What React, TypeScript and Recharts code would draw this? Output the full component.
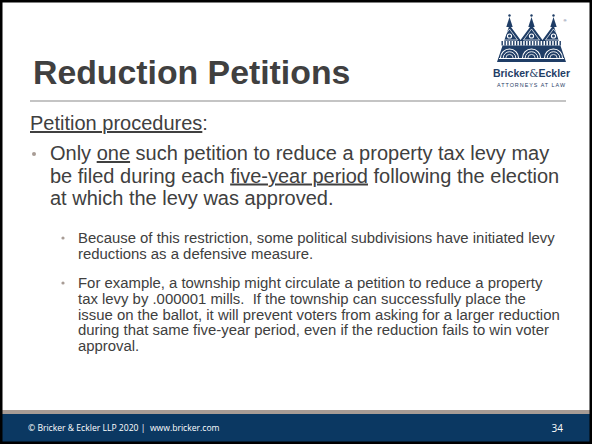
import { Surface, Layer, Rectangle, Polygon, Dot } from "recharts";

type Seg = [string, boolean?];

const TITLE = "Reduction Petitions";
const SUBHEAD = "Petition procedures";
const BULLET_LINES: Seg[][] = [
  [["Only "], ["one", true], [" such petition to reduce a property tax levy may"]],
  [["be filed during each "], ["five-year period", true], [" following the election"]],
  [["at which the levy was approved."]],
];
const SUB_ONE = [
  "Because of this restriction, some political subdivisions have initiated levy",
  "reductions as a defensive measure.",
];
const SUB_TWO = [
  "For example, a township might circulate a petition to reduce a property",
  "tax levy by .000001 mills.  If the township can successfully place the",
  "issue on the ballot, it will prevent voters from asking for a larger reduction",
  "during that same five-year period, even if the reduction fails to win voter",
  "approval.",
];
const FOOTER_TEXT = "© Bricker & Eckler LLP 2020 |  www.bricker.com";
const PAGE_NO = "34";
const SPIRE_X = [509.5, 531.5, 553.5];

const W = 592;
const H = 444;
const FONT = "'Liberation Sans', Arial, sans-serif";
const NAVY = "#0b3862";
const LOGO = "#1f3d66";
const TAN = "#a89c95";
const TEXT = "#404040";

function Logo() {
  return (
    <Layer>
      {/* outer silhouette: three gables */}
      <Polygon
        points={[
          { x: 497, y: 62 },
          { x: 509.5, y: 25 },
          { x: 520.5, y: 40 },
          { x: 531.5, y: 25 },
          { x: 542.5, y: 40 },
          { x: 553.5, y: 25 },
          { x: 566, y: 62 },
        ]}
        fill={LOGO}
      />
      {SPIRE_X.map((x) => (
        <Layer key={x}>
          <Polygon
            points={[
              { x: x - 3.2, y: 27 },
              { x: x, y: 17 },
              { x: x + 3.2, y: 27 },
            ]}
            fill={LOGO}
          />
          <Dot cx={x} cy={15.5} r={1.2} fill={LOGO} />
          {/* inner gable outline */}
          <Polygon
            points={[
              { x: x - 8, y: 40 },
              { x: x, y: 29 },
              { x: x + 8, y: 40 },
            ]}
            fill="none"
            stroke="#fff"
            strokeWidth={0.7}
          />
          <Dot cx={x} cy={36} r={2.6} fill="#fff" />
          <Dot cx={x} cy={36} r={1.5} fill={LOGO} />
        </Layer>
      ))}
      {/* colonnade band */}
      <Rectangle x={501} y={41} width={61} height={4.5} fill="#fff" />
      {Array.from({ length: 21 }).map((_, i) => (
        <Rectangle key={i} x={501.5 + i * 2.9} y={41} width={1.4} height={4.5} fill={LOGO} />
      ))}
      {/* arches */}
      {SPIRE_X.map((x) => (
        <Layer key={`a${x}`}>
          <path d={`M ${x - 9} 58 A 9 9 0 0 1 ${x + 9} 58`} fill="none" stroke="#fff" strokeWidth={1.1} />
          <path d={`M ${x - 6.3} 58 A 6.3 6.3 0 0 1 ${x + 6.3} 58`} fill="none" stroke="#fff" strokeWidth={0.9} />
          <path d={`M ${x - 3.6} 58 A 3.6 3.6 0 0 1 ${x + 3.6} 58`} fill="none" stroke="#fff" strokeWidth={0.8} />
        </Layer>
      ))}
      <Rectangle x={499} y={58} width={65} height={1} fill="#fff" />
      <text x={565} y={22} fontSize={4} fill={LOGO} fontFamily={FONT} textAnchor="middle">®</text>
      <text x={531.5} y={77} fontSize={10.5} fontWeight="bold" fill={LOGO} fontFamily={FONT} textAnchor="middle">
        Bricker<tspan fontWeight="normal" fontFamily="'DejaVu Serif', serif">&amp;</tspan>Eckler
      </text>
      <text x={531.5} y={87} fontSize={5.4} letterSpacing={1} fill={LOGO} fontFamily={FONT} textAnchor="middle">
        ATTORNEYS AT LAW
      </text>
    </Layer>
  );
}

export default function App() {
  return (
    <div style={{ position: "absolute", left: 0, top: 0, width: W, height: H, background: "#fff" }}>
      <Surface width={W} height={H} viewBox={{ x: 0, y: 0, width: W, height: H }}>
        <Rectangle x={0} y={0} width={W} height={H} fill="#fff" />
        {/* footer */}
        <Rectangle x={0} y={410} width={W} height={4} fill={TAN} />
        <Rectangle x={0} y={414} width={W} height={30} fill={NAVY} />
        {/* frame */}
        <rect x={1} y={1} width={W - 2} height={H - 2} fill="none" stroke="#000" strokeWidth={3} />
        <Rectangle x={30} y={100.5} width={536} height={1} fill="#8a8a8a" />

        <Logo />

        <text x={33} y={83.5} fontFamily={FONT} fontSize={33.8} fontWeight="bold" fill={TEXT}>
          {TITLE}
        </text>

        <text x={30} y={130} fontFamily={FONT} fontSize={20} fill={TEXT}>
          <tspan style={{ textDecoration: "underline" }}>{SUBHEAD}</tspan>:
        </text>

        <Dot cx={34} cy={154} r={2} fill={TAN} />
        {BULLET_LINES.map((line, i) => (
          <text key={i} x={50} y={160 + i * 22.5} fontFamily={FONT} fontSize={20} fill={TEXT} style={{ whiteSpace: "pre" }}>
            {line.map(([t, u], j) => (
              <tspan key={j} style={u ? { textDecoration: "underline" } : undefined}>
                {t}
              </tspan>
            ))}
          </text>
        ))}

        <Dot cx={63} cy={238} r={1.6} fill={TAN} />
        {SUB_ONE.map((t, i) => (
          <text key={i} x={78} y={243} dy={i * 16} fontFamily={FONT} fontSize={14.9} fill={TEXT} style={{ whiteSpace: "pre" }}>
            {t}
          </text>
        ))}

        <Dot cx={63} cy={283} r={1.6} fill={TAN} />
        {SUB_TWO.map((t, i) => (
          <text key={i} x={78} y={288} dy={i * 15.8} fontFamily={FONT} fontSize={14.9} fill={TEXT} style={{ whiteSpace: "pre" }}>
            {t}
          </text>
        ))}

        <text x={28} y={431} fontFamily="'Open Sans', sans-serif" fontSize={8.6} fill="#fff" style={{ whiteSpace: "pre" }}>
          {FOOTER_TEXT}
        </text>
        <text x={563} y={432} fontFamily="'Open Sans', sans-serif" fontSize={10} fill="#fff" textAnchor="end">
          {PAGE_NO}
        </text>
      </Surface>
    </div>
  );
}
